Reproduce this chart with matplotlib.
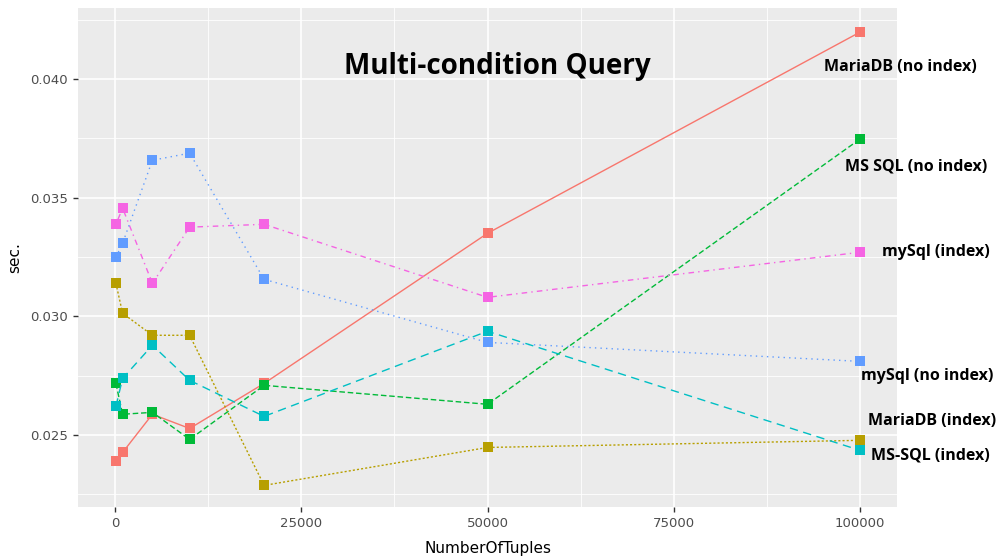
import numpy as np
import matplotlib
matplotlib.use('Agg')
import matplotlib.pyplot as plt
from matplotlib.ticker import MultipleLocator

n_tuples = [100, 1000, 5000, 10000, 20000, 50000, 100000]

maria_noidx = [0.02392, 0.02426, 0.02587, 0.02527, 0.02717, 0.03350, 0.04198]
mssql_noidx = [0.02717, 0.02587, 0.02595, 0.02481, 0.02709, 0.02629, 0.03747]
mysql_idx = [0.03388, 0.03456, 0.03139, 0.03376, 0.03388, 0.03080, 0.03270]
mysql_noidx = [0.03249, 0.03308, 0.03658, 0.03688, 0.03156, 0.02890, 0.02810]
maria_idx = [0.03139, 0.03013, 0.02920, 0.02920, 0.02287, 0.02447, 0.02477]
mssql_idx = [0.02620, 0.02738, 0.02878, 0.02730, 0.02578, 0.02937, 0.02435]

labels = ['MariaDB (no index)', 'MS SQL (no index)', 'mySql (index)',
          'mySql (no index)', 'MariaDB (index)', 'MS-SQL (index)']
# label anchor (x, y) in data units, to the right of the last point
label_pos = [(105500, 0.04051), (107500, 0.03633), (110200, 0.03270),
             (109100, 0.02747), (109700, 0.02557), (109500, 0.02413)]

series = [maria_noidx, mssql_noidx, mysql_idx, mysql_noidx, maria_idx, mssql_idx]
colors = ['#F8766D', '#00BA38', '#F564E3', '#619CFF', '#B79F00', '#00BFC4']
styles = ['-', (0, (4, 2)), (0, (1, 3, 4, 3)), (0, (1, 3)), (0, (1.5, 1.5)), (0, (6, 4))]

fig = plt.figure(figsize=(9.99, 5.57), dpi=100)
ax = fig.add_axes([0.078, 0.0898, 0.82, 0.8958])
ax.set_facecolor('#EBEBEB')

for vals, c, ls in zip(series, colors, styles):
    ax.plot(n_tuples, vals, color=c, linestyle=ls, linewidth=1.0,
            marker='s', markersize=7, markeredgewidth=0, zorder=3)

for lab, (lx, ly) in zip(labels, label_pos):
    ax.text(lx, ly, lab, ha='center', va='center', fontsize=11.5,
            fontweight='bold', color='black', family='Open Sans', clip_on=False)

ax.text(51300, 0.04052, 'Multi-condition Query', ha='center', va='center',
        fontsize=20, fontweight='bold', color='black', family='Open Sans')

ax.set_xlim(-5000, 105000)
ax.set_ylim(0.02196, 0.0430)
ax.xaxis.set_major_locator(MultipleLocator(25000))
ax.xaxis.set_minor_locator(MultipleLocator(12500))
ax.yaxis.set_major_locator(MultipleLocator(0.005))
ax.yaxis.set_minor_locator(MultipleLocator(0.0025))
ax.xaxis.set_major_formatter(plt.FuncFormatter(lambda v, p: f'{int(v)}'))
ax.yaxis.set_major_formatter(plt.FuncFormatter(lambda v, p: f'{v:.3f}'))

ax.grid(which='major', color='white', linewidth=1.2)
ax.grid(which='minor', color='white', linewidth=0.6)
ax.set_axisbelow(True)
for s in ax.spines.values():
    s.set_visible(False)
ax.tick_params(which='major', length=3.5, width=1, color='#333333',
               labelcolor='#4D4D4D', labelsize=9.5)
ax.tick_params(which='minor', length=0)

ax.set_xlabel('NumberOfTuples', fontsize=11, labelpad=8)
ax.set_ylabel('sec.', fontsize=11, labelpad=6)

fig.savefig('out.png', dpi=100)
